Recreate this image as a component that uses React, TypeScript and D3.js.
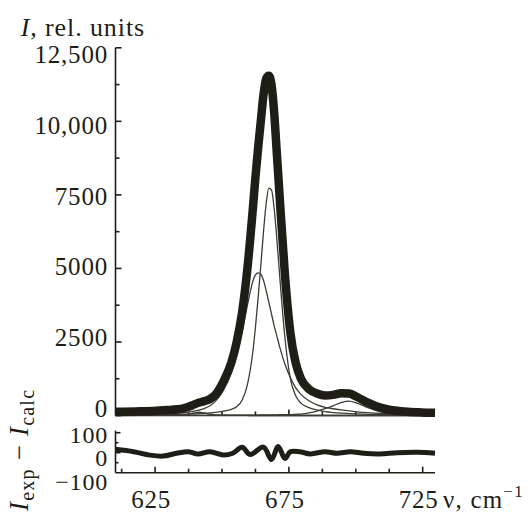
import * as d3 from "d3";

// wavenumber grid (cm^-1) the spectra were read at
const wavenumbers = [610.2, 619.5, 625.5, 629.5, 633.5, 635.5, 637.5, 639.5, 641.5, 643.5, 645.5, 647.5, 650.5, 653.5, 655.5, 657.5, 659.5, 661.5, 662.5, 663.5, 664.5, 665.5, 666.5, 667.5, 668.5, 669.5, 670.5, 671.5, 673.5, 675.5, 677.5, 679.5, 682.5, 685.5, 688.5, 691.5, 694.5, 697.5, 700.5, 704.5, 709.5, 714.5, 719.5, 724.5, 729.6];

// experimental spectrum (thick line)
const measured = [128, 145, 165, 185, 215, 245, 295, 370, 440, 490, 560, 700, 1150, 1800, 2500, 3500, 5000, 7000, 8100, 9100, 10000, 10900, 11450, 11550, 11250, 10300, 8900, 7500, 4800, 2850, 1800, 1250, 900, 750, 680, 700, 760, 750, 630, 440, 260, 170, 125, 105, 95];

// fitted components (thin lines)
const band668 = [14, 19, 25, 30, 37, 42, 48, 55, 63, 74, 87, 104, 145, 210, 300, 520, 1050, 2150, 3000, 4000, 5100, 6230, 7200, 7730, 7670, 7030, 6000, 4820, 2660, 1270, 680, 420, 270, 190, 130, 100, 80, 65, 52, 40, 30, 24, 19, 16, 13];
const band664 = [22, 32, 45, 60, 80, 95, 115, 145, 185, 240, 330, 480, 850, 1450, 2050, 2850, 3750, 4550, 4780, 4850, 4800, 4600, 4250, 3850, 3450, 3050, 2700, 2350, 1750, 1300, 950, 720, 500, 360, 280, 230, 190, 155, 125, 95, 68, 50, 38, 29, 22];
const band697 = [2, 3, 3, 4, 4, 5, 5, 6, 6, 7, 7, 8, 9, 10, 11, 12, 13, 14, 15, 16, 17, 18, 19, 20, 21, 22, 23, 25, 28, 30, 40, 50, 90, 150, 230, 330, 440, 490, 420, 270, 120, 50, 22, 12, 7];
const band642 = [0, 2, 4, 7, 14, 22, 45, 85, 110, 85, 45, 22, 10, 5, 3, 2, 1, 0, 0, 0, 0, 0, 0, 0, 0, 0, 0, 0, 0, 0, 0, 0, 0, 0, 0, 0, 0, 0, 0, 0, 0, 0, 0, 0, 0];

// residual I_exp - I_calc
const residualWavenumbers = [610.2, 617, 623, 628, 633, 637.5, 641, 645.5, 650.5, 654, 657.5, 660.5, 665.5, 668.5, 671, 673.5, 675.5, 679, 683, 688.5, 693, 698, 703, 709, 715.5, 723, 729.6];
const residual = [17, 5, -12, -17, -3, 5, -7, 5, -12, -3, 27, -9, 28, -34, 31, -29, 5, 5, -6, 5, -3, 5, -3, -6, 0, 2, -3];

const yTicks = [0, 2500, 5000, 7500, 10000, 12500];
const yTickLabels = ["0", "2500", "5000", "7500", "10,000", "12,500"];
const xTicks = [625, 675, 725];
const residualTicks = [100, 0, -100];
const residualTickLabels = ["100", "0", "\u2212100"];

const FONT = "'Liberation Serif', 'DejaVu Serif', serif";
const INK = "#1e1e16";

export default function App() {
  const x = d3.scaleLinear().domain([610.2, 729.6]).range([115.5, 435]);
  const y = d3.scaleLinear().domain([0, 12500]).range([415.5, 47.8]);
  const yLab = d3.scaleLinear().domain([0, 12500]).range([408.5, 54]);
  const r = d3.scaleLinear().domain([-100, 100]).range([472.7, 432.7]);
  const rLab = d3.scaleLinear().domain([-100, 100]).range([482, 435]);

  const spectrum = (vals: number[]) =>
    d3.line<number>()
      .x((_, i) => x(wavenumbers[i]))
      .y(d => y(d))
      .curve(d3.curveMonotoneX)(vals) || "";

  const residualPath = d3.line<number>()
    .x((_, i) => x(residualWavenumbers[i]))
    .y(d => r(d))
    .curve(d3.curveCatmullRom.alpha(0.5))(residual) || "";

  const xMinor = d3.range(612.5, 729, 12.5);
  const yMinor = d3.range(0, 12501, 1250);
  const rMinor = [100, 50, 0, -50];

  return (
    <svg width={532} height={512} style={{ position: "absolute", left: 0, top: 0, background: "#fff" }}>
      {/* main panel axes */}
      <g stroke={INK} strokeWidth={1.6}>
        <line x1={x.range()[0]} x2={x.range()[0]} y1={y(12500)} y2={y(0)} />
        <line x1={x.range()[0]} x2={x.range()[1]} y1={y(0)} y2={y(0)} />
        {yMinor.map(t => (
          <line key={"ym" + t} x1={x.range()[0]} x2={x.range()[0] + (t % 2500 === 0 ? 6 : 4)} y1={y(t)} y2={y(t)} />
        ))}
        {xMinor.map(t => (
          <line key={"xm" + t} x1={x(t)} x2={x(t)} y1={y(0)} y2={y(0) - (xTicks.includes(t) ? 6 : 4)} />
        ))}
      </g>
      <g fontFamily={FONT} fontSize={25} fill={INK} textAnchor="end" letterSpacing={0.8}>
        {yTicks.map((t, i) => (
          <text key={"yl" + t} x={108} y={yLab(t)} dy="0.35em">{yTickLabels[i]}</text>
        ))}
      </g>
      <text x={20.7} y={36} fontFamily={FONT} fontSize={26} fill={INK} letterSpacing={0.9}>
        <tspan fontStyle="italic">I</tspan>, rel. units
      </text>

      {/* components */}
      <g fill="none" stroke="#3c3c34" strokeWidth={1.3}>
        {[band668, band664, band697, band642].map((b, i) => (
          <path key={"b" + i} d={spectrum(b)} />
        ))}
      </g>
      <path d={spectrum(measured)} fill="none" stroke={INK} strokeWidth={8.5} strokeLinejoin="round" />

      {/* residual panel */}
      <g stroke={INK} strokeWidth={1.6}>
        <line x1={x.range()[0]} x2={x.range()[0]} y1={r(100) - 2} y2={r(-100)} />
        <line x1={x.range()[0]} x2={x.range()[1]} y1={r(-100)} y2={r(-100)} />
        {rMinor.map(t => (
          <line key={"rm" + t} x1={x.range()[0]} x2={x.range()[0] + (t % 100 === 0 ? 5 : 3)} y1={r(t)} y2={r(t)} />
        ))}
        {xMinor.map(t => (
          <line key={"rx" + t} x1={x(t)} x2={x(t)} y1={r(-100)} y2={r(-100) - (xTicks.includes(t) ? 6 : 4)} />
        ))}
      </g>
      <path d={residualPath} fill="none" stroke={INK} strokeWidth={5} strokeLinejoin="round" />
      <g fontFamily={FONT} fontSize={24} fill={INK} textAnchor="end" letterSpacing={0.8}>
        {residualTicks.map((t, i) => (
          <text key={"rl" + t} x={108} y={rLab(t)} dy="0.33em">{residualTickLabels[i]}</text>
        ))}
      </g>
      <g fontFamily={FONT} fontSize={25} fill={INK} textAnchor="middle" letterSpacing={0.8}>
        {xTicks.map(t => (
          <text key={"xl" + t} x={x(t) - 4} y={508}>{t}</text>
        ))}
      </g>
      <text x={443} y={508} fontFamily={FONT} fontSize={25} fill={INK} letterSpacing={1.2}>
        ν, cm<tspan dy={-11} fontSize={17}>−1</tspan>
      </text>
      <text transform="translate(28,511) rotate(-90)" fontFamily={FONT} fontSize={27} fill={INK} letterSpacing={1.2}>
        <tspan fontStyle="italic">I</tspan>
        <tspan fontSize={20} dy={6}>exp</tspan>
        <tspan dy={-6}> − </tspan>
        <tspan fontStyle="italic">I</tspan>
        <tspan fontSize={20} dy={6}>calc</tspan>
      </text>
    </svg>
  );
}
